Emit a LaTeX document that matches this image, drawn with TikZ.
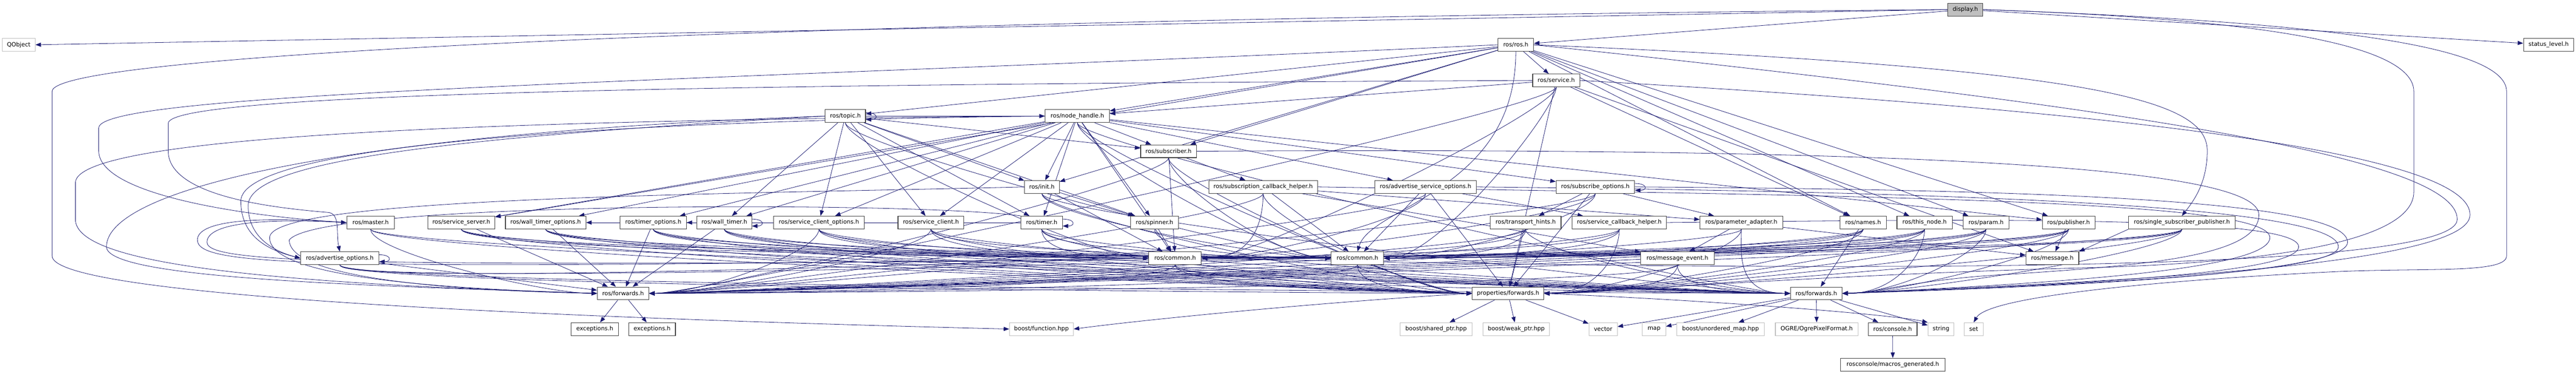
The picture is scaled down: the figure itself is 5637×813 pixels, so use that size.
\documentclass[tikz,border=0pt]{standalone}
\usepackage{fontspec}
\setmainfont{DejaVu Sans}
\usetikzlibrary{arrows.meta}
\pgfdeclarelayer{bg}
\pgfsetlayers{bg,main}
\definecolor{edgec}{HTML}{191970}
\definecolor{bord}{HTML}{404040}
\definecolor{gbord}{HTML}{BFBFBF}
\definecolor{gfill}{HTML}{BFBFBF}
\newcommand\nfont{\fontsize{12.7}{15}\selectfont}
\newcommand\edR[2]{\draw[e] (#1.south) .. controls +(0,50) and +(120,0) .. (#2.east);}
\newcommand\edL[2]{\draw[e] (#1.south) .. controls +(0,50) and +(-120,0) .. (#2.west);}
\newcommand\edS[2]{\draw[e] (#1) -- (#2);}
\newcommand\selfl[1]{\draw[e] ([yshift=-7pt]#1.north east) .. controls +(28,0) and +(28,0) .. ([yshift=7pt]#1.south east);}
\tikzset{
  nd/.style={draw=bord, line width=1.2pt, fill=white, minimum height=28pt, inner sep=0pt, font=\nfont, text=black},
  gnd/.style={nd, draw=gbord},
  e/.style={draw=edgec, line width=0.9pt, -{Triangle[length=12pt,width=9pt]}},
}
\begin{document}
\begin{tikzpicture}[x=1pt,y=-1pt]
\useasboundingbox (0,0) rectangle (5637,813);
% ---------------- nodes ----------------
\node[nd, fill=gfill, minimum width=77pt] (disp) at (4300.5,21) {display.h};
\node[gnd, minimum width=72pt] (qobj) at (41,98) {QObject};
\node[nd, minimum width=78pt] (ros) at (3317,98) {ros/ros.h};
\node[nd, minimum width=110pt] (status) at (5577,98) {status\_level.h};
\node[nd, minimum width=103pt] (service) at (3405.5,176) {ros/service.h};
\node[nd, minimum width=88pt] (topic) at (1850,254) {ros/topic.h};
\node[nd, minimum width=141pt] (nh) at (2357.5,254) {ros/node\_handle.h};
\node[nd, minimum width=122pt] (sub) at (2557,331) {ros/subscriber.h};
\node[nd, minimum width=76pt] (init) at (2280,409) {ros/init.h};
\node[nd, minimum width=238pt] (sch) at (2764,409) {ros/subscription\_callback\_helper.h};
\node[nd, minimum width=223pt] (aso) at (3119.5,409) {ros/advertise\_service\_options.h};
\node[nd, minimum width=172pt] (so) at (3491,409) {ros/subscribe\_options.h};
\node[nd, minimum width=104pt] (master) at (811,487) {ros/master.h};
\node[nd, minimum width=147pt] (ss) at (1009.5,487) {ros/service\_server.h};
\node[nd, minimum width=176pt] (wto) at (1194,487) {ros/wall\_timer\_options.h};
\node[nd, minimum width=145pt] (tmo) at (1429.5,487) {ros/timer\_options.h};
\node[nd, minimum width=120pt] (wt) at (1585,487) {ros/wall\_timer.h};
\node[nd, minimum width=198pt] (sco) at (1792,487) {ros/service\_client\_options.h};
\node[nd, minimum width=144pt] (sc) at (2037,487) {ros/service\_client.h};
\node[nd, minimum width=91pt] (tm) at (2279.5,487) {ros/timer.h};
\node[nd, minimum width=105pt] (spin) at (2526.5,487) {ros/spinner.h};
\node[nd, minimum width=155pt] (th) at (3338.5,487) {ros/transport\_hints.h};
\node[nd, minimum width=207pt] (svch) at (3543.5,487) {ros/service\_callback\_helper.h};
\node[nd, minimum width=181pt] (pa) at (3810.5,487) {ros/parameter\_adapter.h};
\node[nd, minimum width=102pt] (names) at (4077,487) {ros/names.h};
\node[nd, minimum width=121pt] (tn) at (4211.5,487) {ros/this\_node.h};
\node[nd, minimum width=100pt] (param) at (4346,487) {ros/param.h};
\node[nd, minimum width=115pt] (pub) at (4526.5,487) {ros/publisher.h};
\node[nd, minimum width=233pt] (ssp) at (4774.5,487) {ros/single\_subscriber\_publisher.h};
\node[nd, minimum width=171pt] (ao) at (743.5,565) {ros/advertise\_options.h};
\node[nd, minimum width=115pt] (comA) at (2571.5,565) {ros/common.h};
\node[nd, minimum width=115pt] (comB) at (2970.5,565) {ros/common.h};
\node[nd, minimum width=161pt] (me) at (3670.5,565) {ros/message\_event.h};
\node[nd, minimum width=116pt] (msg) at (4491,565) {ros/message.h};
\node[nd, minimum width=113pt] (fwdA) at (1363.5,642) {ros/forwards.h};
\node[nd, minimum width=156pt] (pfwd) at (3300,642) {properties/forwards.h};
\node[nd, minimum width=113pt] (fwdB) at (3974.5,642) {ros/forwards.h};
\node[nd, minimum width=103pt] (excA) at (1301.5,720) {exceptions.h};
\node[nd, minimum width=102pt] (excB) at (1427,720) {exceptions.h};
\node[gnd, minimum width=140pt] (bfun) at (2279,720) {boost/function.hpp};
\node[gnd, minimum width=157pt] (bsp) at (3142.5,720) {boost/shared\_ptr.hpp};
\node[gnd, minimum width=146pt] (bwp) at (3318,720) {boost/weak\_ptr.hpp};
\node[gnd, minimum width=62pt] (vec) at (3508,720) {vector};
\node[gnd, minimum width=51pt] (mapn) at (3619.5,720) {map};
\node[gnd, minimum width=192pt] (um) at (3765,720) {boost/unordered\_map.hpp};
\node[gnd, minimum width=181pt] (ogre) at (3975.5,720) {OGRE/OgrePixelFormat.h};
\node[nd, minimum width=107pt] (console) at (4141.5,720) {ros/console.h};
\node[gnd, minimum width=57pt] (str) at (4247.5,720) {string};
\node[gnd, minimum width=42pt] (setn) at (4319,720) {set};
\node[nd, minimum width=228pt] (macros) at (4142,798) {rosconsole/macros\_generated.h};
% ---------------- edges ----------------
\begin{pgfonlayer}{bg}
% display.h
\draw[e] (disp.west) -- (qobj.east);
\edS{disp}{ros}
\edS{disp}{status}
\draw[e] (disp.west) .. controls (2000,40) and (114,110) .. (114,200) -- (114,560) .. controls (114,640) and (1000,690) .. (bfun.west);
\draw[e] (disp.east) .. controls (4900,40) and (5282,90) .. (5282,200) -- (5282,420) .. controls (5282,540) and (4900,575) .. (4600,585) .. controls (4000,600) and (3500,640) .. (pfwd.east);
\draw[e] (disp.east) .. controls (5000,45) and (5485,90) .. (5485,200) -- (5485,560) .. controls (5485,600) and (5300,585) .. (5100,595) .. controls (4700,615) and (4350,650) .. (setn.north);
% ros/ros.h
\edS{ros}{service}
\edS{ros}{topic}
\edS{ros}{nh}
\edS{ros}{sub}
\edS{ros}{init}
\edS{ros}{ss}
\edS{ros}{names}
\edS{ros}{tn}
\edS{ros}{param}
\edS{ros}{pub}
\draw[e] (ros.east) .. controls (4600,150) and (4830,220) .. (4830,330) .. controls (4830,400) and (4800,440) .. (ssp.north);
\draw[e] (ros.west) .. controls (1500,180) and (216,200) .. (216,280) -- (216,330) .. controls (216,430) and (560,475) .. (master.west);
\draw[e] (ros.south) .. controls (3317,420) and (3000,450) .. (comB.north);
\draw[e] (ros.east) .. controls (4600,230) and (5377,340) .. (5377,480) .. controls (5377,600) and (4000,595) .. (comA.east);
% ros/service.h
\edS{service}{nh}
\edS{service}{names}
\edS{service}{msg}
\draw[e] (service.west) .. controls (1500,185) and (368,205) .. (368,270) -- (368,330) .. controls (368,430) and (600,455) .. (720,465) .. controls (745,470) and (735,510) .. (ao.north);
\edR{service}{fwdA}
\edS{service}{pfwd}
\edR{service}{comA}
\edR{service}{comB}
\draw[e] (service.east) .. controls (4600,240) and (5405,330) .. (5405,470) .. controls (5405,590) and (4500,620) .. (fwdB.east);
% ros/topic.h
\edS{topic}{nh}
\selfl{topic}
\edS{topic}{sub}
\edS{topic}{init}
\edS{topic}{spin}
\edS{topic}{tm}
\edS{topic}{sc}
\edS{topic}{sco}
\edS{topic}{wt}
\draw[e] (topic.west) .. controls (700,295) and (233,420) .. (233,540) .. controls (233,610) and (800,625) .. (fwdA.west);
\draw[e] (topic.west) .. controls (1000,300) and (543,350) .. (543,450) .. controls (543,520) and (600,550) .. (ao.west);
\edL{topic}{comA}
\edL{topic}{comB}
% ros/node_handle.h
\edS{nh}{sub}
\edS{nh}{init}
\edS{nh}{spin}
\edS{nh}{tm}
\edS{nh}{sc}
\edS{nh}{sco}
\edS{nh}{wt}
\edS{nh}{tmo}
\edS{nh}{wto}
\edS{nh}{ss}
\edS{nh}{aso}
\edS{nh}{so}
\edS{nh}{pub}
\draw[e] (nh.west) .. controls (1300,265) and (527,320) .. (527,440) .. controls (527,520) and (590,548) .. (ao.west);
\draw[e] (nh.west) .. controls (1200,262) and (165,290) .. (165,400) -- (165,480) .. controls (165,580) and (600,620) .. (fwdA.west);
\edL{nh}{pfwd}
\edL{nh}{fwdB}
\edS{nh}{comA}
\edL{nh}{comB}
% ros/subscriber.h
\edS{sub}{sch}
\edR{sub}{fwdA}
\edL{sub}{pfwd}
\edS{sub}{comA}
\edL{sub}{comB}
\draw[e] (sub.east) .. controls (4400,320) and (4943,380) .. (4943,470) .. controls (4943,560) and (4700,580) .. (4400,600) .. controls (4200,610) and (4100,642) .. (fwdB.east);
% ros/init.h
\edS{init}{spin}
\draw[e] (init.west) .. controls (1600,425) and (590,430) .. (590,520) .. controls (590,600) and (900,630) .. (fwdA.west);
\edL{init}{pfwd}
\edL{init}{fwdB}
\edS{init}{comA}
\edL{init}{comB}
% ros/timer.h
\edS{tm}{tmo}
\selfl{tm}
\draw[e] (tm.north west) .. controls (2000,440) and (700,440) .. (633,525) .. controls (633,605) and (950,635) .. (fwdA.west);
\edL{tm}{pfwd}
\edL{tm}{fwdB}
\edL{tm}{comA}
\edL{tm}{comB}
% ros/subscription_callback_helper.h
\edS{sch}{pa}
\edS{sch}{me}
\edR{sch}{fwdA}
\edL{sch}{pfwd}
\edR{sch}{comA}
\edS{sch}{comB}
\draw[e] (sch.east) .. controls (4200,430) and (4967,440) .. (4967,520) .. controls (4967,590) and (4500,620) .. (fwdB.east);
% ros/advertise_service_options.h
\edS{aso}{svch}
\edR{aso}{fwdA}
\edS{aso}{pfwd}
\edR{aso}{comA}
\edS{aso}{comB}
\draw[e] (aso.east) .. controls (4300,420) and (5117,450) .. (5117,540) .. controls (5117,600) and (4500,625) .. (fwdB.east);
% ros/subscribe_options.h
\edS{so}{th}
\edS{so}{pa}
\selfl{so}
\edR{so}{fwdA}
\edS{so}{pfwd}
\edR{so}{comA}
\edR{so}{comB}
\draw[e] (so.east) .. controls (4500,415) and (5137,440) .. (5137,530) .. controls (5137,600) and (4500,628) .. (fwdB.east);
% ros/master.h
\edL{master}{fwdA}
\edL{master}{pfwd}
\edL{master}{fwdB}
\draw[e] (master.west) .. controls (520,470) and (432,490) .. (432,525) .. controls (432,585) and (700,590) .. (comA.west);
\draw[e] (master.west) .. controls (540,475) and (453,495) .. (453,530) .. controls (453,580) and (800,585) .. (comB.west);
% ros/service_server.h
\edS{ss}{fwdA}
\edL{ss}{pfwd}
\edL{ss}{fwdB}
\edL{ss}{comA}
\edL{ss}{comB}
% ros/wall_timer_options.h
\edS{wto}{fwdA}
\edL{wto}{pfwd}
\edL{wto}{fwdB}
\edL{wto}{comA}
\edL{wto}{comB}
% ros/timer_options.h
\edS{tmo}{fwdA}
\edL{tmo}{pfwd}
\edL{tmo}{fwdB}
\edL{tmo}{comA}
\edL{tmo}{comB}
% ros/wall_timer.h
\edS{wt}{wto}
\selfl{wt}
\edS{wt}{fwdA}
\edL{wt}{pfwd}
\edL{wt}{fwdB}
\edL{wt}{comA}
\edL{wt}{comB}
% ros/service_client_options.h
\edR{sco}{fwdA}
\edL{sco}{pfwd}
\edL{sco}{fwdB}
\edL{sco}{comA}
\edL{sco}{comB}
% ros/service_client.h
\edR{sc}{fwdA}
\edL{sc}{pfwd}
\edL{sc}{fwdB}
\edL{sc}{comA}
\edL{sc}{comB}
% ros/spinner.h
\edS{spin}{comA}
\edL{spin}{comB}
% ros/transport_hints.h
\edR{th}{fwdA}
\edS{th}{pfwd}
\edL{th}{fwdB}
\edR{th}{comA}
\edR{th}{comB}
% ros/service_callback_helper.h
\edR{svch}{fwdA}
\edR{svch}{pfwd}
\edR{svch}{comA}
\edR{svch}{comB}
\draw[e] (svch.east) .. controls (4300,480) and (5030,470) .. (5030,540) .. controls (5030,600) and (4500,625) .. (fwdB.east);
% ros/parameter_adapter.h
\edS{pa}{me}
\edS{pa}{msg}
\edR{pa}{fwdA}
\edR{pa}{pfwd}
\edL{pa}{fwdB}
% ros/names.h
\edR{names}{fwdA}
\edR{names}{pfwd}
\edS{names}{fwdB}
\edR{names}{comA}
\edR{names}{comB}
% ros/this_node.h
\edR{tn}{fwdA}
\edR{tn}{pfwd}
\edR{tn}{fwdB}
\edR{tn}{comA}
\edR{tn}{comB}
% ros/param.h
\edR{param}{fwdA}
\edR{param}{pfwd}
\edR{param}{fwdB}
\edR{param}{comA}
\edR{param}{comB}
% ros/publisher.h
\edS{pub}{msg}
\edR{pub}{fwdA}
\edR{pub}{pfwd}
\edR{pub}{fwdB}
\edR{pub}{comA}
\edR{pub}{comB}
% ros/single_subscriber_publisher.h
\draw[e] (ssp.south west) -- (msg.north east);
\edR{ssp}{fwdA}
\edR{ssp}{pfwd}
\edR{ssp}{fwdB}
\edR{ssp}{comA}
\edR{ssp}{comB}
% ros/advertise_options.h
\selfl{ao}
\edS{ao}{fwdA}
\edL{ao}{pfwd}
\edL{ao}{fwdB}
\edL{ao}{comA}
\edL{ao}{comB}
% ros/common.h (both)
\edR{comA}{fwdA}
\edL{comA}{pfwd}
\edL{comA}{fwdB}
\edR{comB}{fwdA}
\edL{comB}{pfwd}
\edL{comB}{fwdB}
% ros/message_event.h
\edR{me}{fwdA}
\edR{me}{pfwd}
\edL{me}{fwdB}
% ros/forwards.h (left)
\edS{fwdA}{excA}
\edS{fwdA}{excB}
% properties/forwards.h
\edS{pfwd}{bsp}
\edS{pfwd}{bwp}
\edS{pfwd}{vec}
\draw[e] (pfwd.west) .. controls (2900,660) and (2500,700) .. (bfun.east);
\draw[e] (pfwd.east) .. controls (3800,660) and (4150,690) .. (str.north west);
% ros/forwards.h (right)
\edS{fwdB}{um}
\edS{fwdB}{ogre}
\edS{fwdB}{console}
\edS{fwdB}{vec}
\edS{fwdB}{mapn}
\edS{fwdB}{str}
% ros/console.h
\edS{console}{macros}
\end{pgfonlayer}
\end{tikzpicture}
\end{document}
